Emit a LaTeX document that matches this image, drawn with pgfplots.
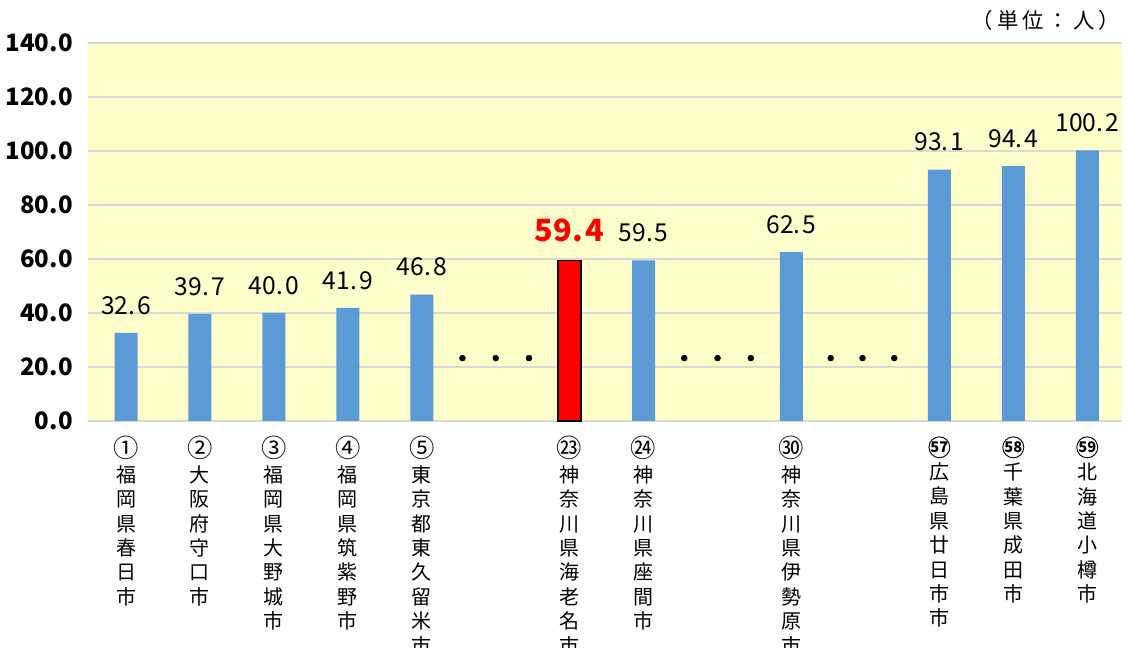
\documentclass[border=0pt]{standalone}
\usepackage{fontspec}
\setmainfont{Noto Sans CJK JP}
\usepackage{pgfplots}
\pgfplotsset{compat=1.18}
\definecolor{barblue}{HTML}{5B9BD5}
\definecolor{plotbg}{HTML}{FFFFCC}
\definecolor{gridgray}{HTML}{D9D9D9}
% circled rank numbers
\newcommand\cnum[1]{\tikz[baseline=(n.base)]\node[draw, circle, inner sep=0pt, minimum size=14.5pt,
  line width=0.7pt, font=\fontsize{11}{11}\selectfont\bfseries](n){#1};}
\newcommand\cg[1]{{\fontsize{19}{18}\selectfont #1}}

\begin{document}
\begin{tikzpicture}
\begin{axis}[
  name=ax,
  scale only axis,
  width=775.5pt, height=283.5pt,
  xmin=-0.514, xmax=13.47, ymin=0, ymax=140,
  ytick={0,20,...,140},
  xtick={0,1,2,3,4,6,7,9,11,12,13},
  xticklabels={
    {\cg{①}\\福\\岡\\県\\春\\日\\市},
    {\cg{②}\\大\\阪\\府\\守\\口\\市},
    {\cg{③}\\福\\岡\\県\\大\\野\\城\\市},
    {\cg{④}\\福\\岡\\県\\筑\\紫\\野\\市},
    {\cg{⑤}\\東\\京\\都\\東\\久\\留\\米\\市},
    {\cg{㉓}\\神\\奈\\川\\県\\海\\老\\名\\市},
    {\cg{㉔}\\神\\奈\\川\\県\\座\\間\\市},
    {\cg{㉚}\\神\\奈\\川\\県\\伊\\勢\\原\\市},
    {\cnum{57}\\[2pt]広\\島\\県\\廿\\日\\市\\市},
    {\cnum{58}\\[2pt]千\\葉\\県\\成\\田\\市},
    {\cnum{59}\\[2pt]北\\海\\道\\小\\樽\\市}},
  xticklabel style={anchor=north, align=center, yshift=-8pt,
    font=\fontsize{15}{18.3}\selectfont},
  yticklabel style={anchor=east, xshift=-8pt, font=\fontsize{18}{20}\selectfont\bfseries},
  /pgf/number format/.cd, fixed, fixed zerofill, precision=1, assume math mode=true,
  /pgfplots/.cd,
  axis line style={draw=none},
  major tick length=0pt,
  ymajorgrids,
  grid style={gridgray, line width=1.2pt},
  axis background/.style={fill=plotbg},
  clip=false,
]
% ranked cities shown in blue
\addplot[ybar, bar width=17.25pt, bar shift=0pt, fill=barblue, draw=none,
  nodes near coords={\pgfmathprintnumber[fixed,fixed zerofill,precision=1,assume math mode=true,
    set decimal separator={.\hspace{1.5pt}}]{\pgfplotspointmeta}},
  every node near coord/.append style={anchor=base, yshift=14pt, black,
    font=\fontsize{18.5}{20}\selectfont}]
  coordinates {(0,32.6) (1,39.7) (2,40.0) (3,41.9) (4,46.8)
               (7,59.5) (9,62.5) (11,93.1) (12,94.4) (13,100.2)};
% highlighted city
\addplot[ybar, bar width=17.25pt, bar shift=0pt, fill=red, draw=black, line width=1.2pt,
  nodes near coords={\pgfmathprintnumber[fixed,fixed zerofill,precision=1,assume math mode=true,
    set decimal separator={.\hspace{2pt}}]{\pgfplotspointmeta}},
  every node near coord/.append style={anchor=base, yshift=14pt, red,
    font=\fontsize{23}{26}\selectfont\bfseries}]
  coordinates {(6,59.4)};
% ellipsis dots between omitted ranks
\addplot[only marks, mark=*, mark size=2.2pt, black]
  coordinates {(4.55,23.3) (5.0,23.3) (5.45,23.3)
               (7.55,23.3) (8.0,23.3) (8.45,23.3)
               (9.53,23.3) (9.96,23.3) (10.39,23.3)};
\node[anchor=base east, font=\fontsize{16}{18}\selectfont] at (rel axis cs:1,1) [xshift=2pt, yshift=11pt]
  {（\hspace{3pt}単\hspace{3pt}位\hspace{3pt}：\hspace{3pt}人\hspace{3pt}）};
\end{axis}
\pgfresetboundingbox
\path (ax.south west) ++(-66pt,-170.25pt) rectangle ++(845.25pt,486pt);
\end{tikzpicture}
\end{document}
